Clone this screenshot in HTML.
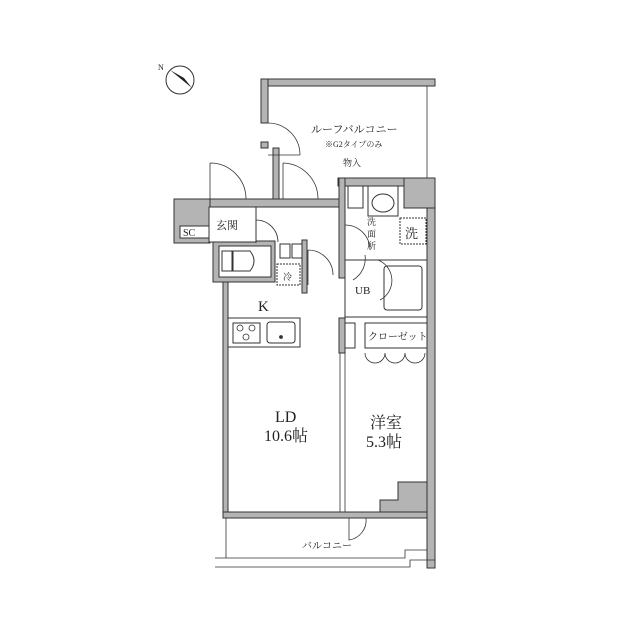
<!DOCTYPE html>
<html><head><meta charset="utf-8"><style>
html,body{margin:0;padding:0;background:#fff}
svg{display:block}
text{font-family:"Liberation Serif","Noto Serif CJK SC","Noto Sans CJK JP",serif;fill:#222}
</style></head><body>
<svg width="640" height="640" viewBox="0 0 640 640" xmlns="http://www.w3.org/2000/svg">
<g fill="#b4b4b4" stroke="#333" stroke-width="1">
<rect x="261" y="79" width="174" height="7"/>
<rect x="261" y="79" width="7" height="44"/>
<rect x="261" y="142" width="7" height="6"/>
<rect x="273" y="148" width="6" height="58"/>
<rect x="210" y="199" width="130" height="8"/>
<rect x="174" y="199" width="36" height="44"/>
<rect x="338" y="178" width="97" height="8"/>
<rect x="427" y="178" width="8" height="390"/>
<rect x="404" y="178" width="31" height="30"/>
<rect x="213" y="241" width="62" height="41"/>
<rect x="302" y="240" width="5" height="53"/>
<rect x="223" y="282" width="5" height="236"/>
<rect x="223" y="512" width="204" height="6"/>
<rect x="339" y="178" width="6" height="100"/>
<rect x="339" y="318" width="6" height="35"/>
<path d="M398 482 H427 V512 H380 V500 H398 Z"/>
</g>
<g fill="#fff" stroke="#333" stroke-width="1">
<rect x="180" y="226" width="29" height="12"/>
<rect x="209" y="207" width="47" height="35"/>
<rect x="219" y="246" width="52" height="31"/>
<rect x="277" y="264" width="23" height="21" stroke-dasharray="2 1"/>
<rect x="280" y="244" width="10" height="14"/>
<rect x="292" y="244" width="10" height="14"/>
<rect x="222" y="251" width="10" height="20"/>
<path d="M233 251 H250 Q258 261 250 271 H233 Z"/>
<rect x="368" y="186" width="30" height="30"/>
<ellipse cx="383" cy="203" rx="11" ry="9"/>
<rect x="348" y="186" width="15" height="22"/>
<rect x="400" y="218" width="26" height="26" stroke-dasharray="2 1"/>
<rect x="345" y="260" width="82" height="57"/>
<rect x="384" y="266" width="38" height="44" rx="3"/>
<rect x="345" y="323" width="10" height="25"/>
<rect x="365" y="323" width="62" height="25"/>
<rect x="228" y="318" width="72" height="29"/>
<rect x="233" y="323" width="27" height="20"/>
<rect x="267" y="322" width="28" height="21" rx="3"/>
</g>
<g fill="none" stroke="#333" stroke-width="0.8">
<line x1="427" y1="86" x2="427" y2="178"/>
<path d="M268 123 A32 32 0 0 1 300 155 M268 155 H300" />
<path d="M210 163 V199 M210 163 A36 36 0 0 1 246 199"/>
<path d="M283 163 V199 M283 163 A36 36 0 0 1 318 199"/>
<path d="M256 207 V243 M256 220 A22 22 0 0 1 278 242"/>
<path d="M308 250 V285 M308 250 A25 25 0 0 1 333 275"/>
<path d="M345 225 A25 25 0 0 1 370 250"/>
<path d="M353 280 A25 25 0 0 0 365 255 M380 300 A22 22 0 0 0 378 260"/>
<path d="M345 353 V512 M340 353 V512"/>
<path d="M365 353 A10 10 0 0 0 375 363 A10 10 0 0 0 385 353 A10 10 0 0 0 395 363 A10 10 0 0 0 405 353 A10 10 0 0 0 415 363 A10 10 0 0 0 425 353"/>
<path d="M349 518 V540 A20 20 0 0 0 366 518"/>
<path d="M226 518 V558 M215 558 H405 V550 H427 M215 567 H410 V560 H435 V568"/>
<circle cx="240" cy="328" r="3"/><circle cx="252" cy="328" r="3"/><circle cx="246" cy="337" r="3"/>
<circle cx="281" cy="337" r="1.5" fill="#333"/>
</g>
<g>
<circle cx="180" cy="80" r="14" fill="#fff" stroke="#333"/>
<path d="M170 70 L192 88 L184 78 Z" fill="#222"/>
<text x="158" y="70" font-size="8">N</text>
</g>
<g font-size="10">
<text x="311" y="133" font-size="11">ルーフバルコニー</text>
<text x="325" y="147" font-size="8">※G2タイプのみ</text>
<text x="343" y="166" font-size="9">物入</text>
<text x="216" y="229" font-size="11">玄関</text>
<text x="183" y="236" font-size="10">SC</text>
<text x="367" y="225" font-size="9">洗</text>
<text x="367" y="237" font-size="9">面</text>
<text x="367" y="249" font-size="9">所</text>
<text x="405" y="238" font-size="13">洗</text>
<text x="283" y="280" font-size="9">冷</text>
<text x="355" y="294" font-size="11">UB</text>
<text x="258" y="311" font-size="15">K</text>
<text x="368" y="340" font-size="10">クローゼット</text>
<text x="275" y="422" font-size="16">LD</text>
<text x="264" y="441" font-size="16">10.6帖</text>
<text x="370" y="428" font-size="16">洋室</text>
<text x="366" y="447" font-size="16">5.3帖</text>
<text x="302" y="549" font-size="10">バルコニー</text>
</g>
</svg>
</body></html>
